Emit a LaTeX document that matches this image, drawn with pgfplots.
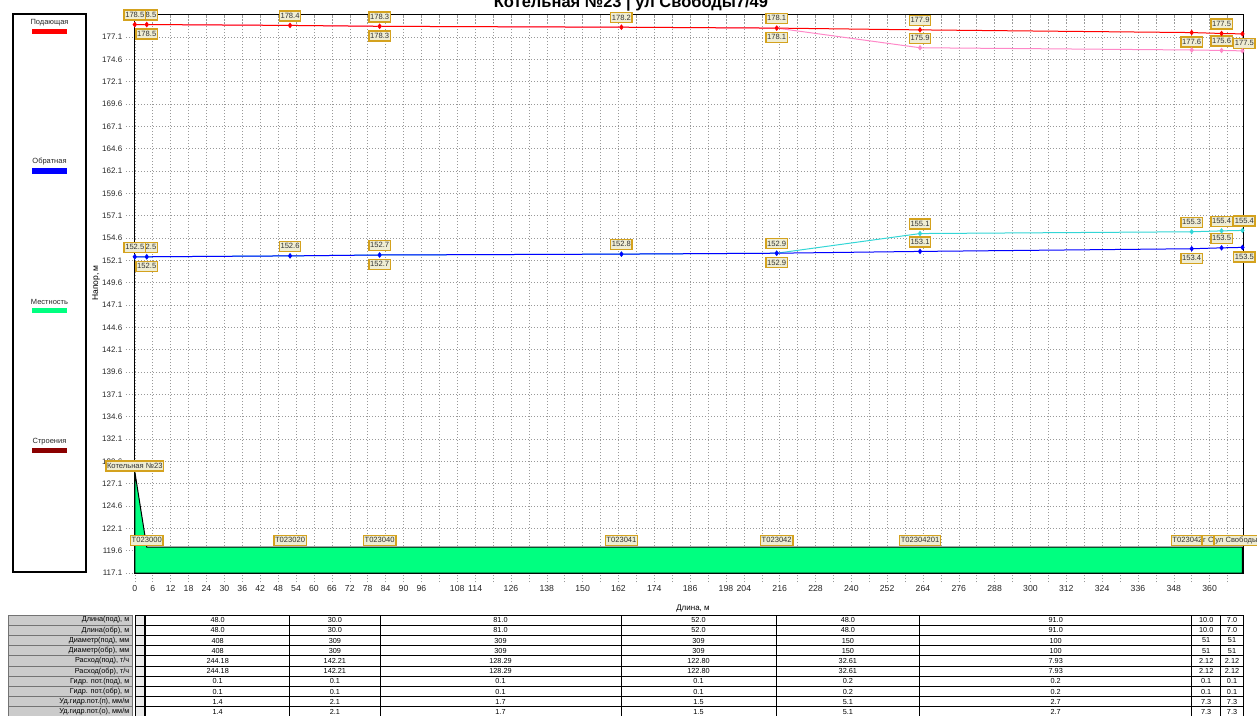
\documentclass[border=0pt]{standalone}
\usepackage{fontspec}
\setmainfont{Liberation Sans}
\usepackage{pgfplots}
\pgfplotsset{compat=1.18}
\definecolor{supply}{HTML}{FF0000}
\definecolor{supplyb}{HTML}{FF88C8}
\definecolor{ret}{HTML}{0000FF}
\definecolor{retb}{HTML}{33D6D6}
\definecolor{ground}{HTML}{00FF80}
\definecolor{build}{HTML}{8B0000}
\definecolor{lblfill}{HTML}{EFEDD3}
\definecolor{lbldraw}{HTML}{D4A21E}
\definecolor{hdrgray}{HTML}{CBCBCB}
\tikzset{vlab/.style={draw=lbldraw, fill=lblfill, line width=1.4pt, font=\fontsize{7.6}{9}\selectfont, text=black!80, inner xsep=1.2pt, inner ysep=1.7pt, text height=5.6pt, text depth=1pt},
tfont/.style={font=\fontsize{7.3}{8}\selectfont, inner sep=0pt}}
\newcommand\va[3]{\node[vlab, yshift=9.5pt] at (axis cs:#1,#2) {#3};}
\newcommand\vb[3]{\node[vlab, yshift=-9.5pt] at (axis cs:#1,#2) {#3};}
\newcommand\trow[3]{%
  \pgfmathsetmacro\yt{615+10.2*#1}%
  \pgfmathsetmacro\yb{615+10.2*(#1+1)}%
  \pgfmathsetmacro\ym{615+10.2*#1+5.1}%
  \fill[hdrgray] (8.3,\yt) rectangle (132.7,\yb);
  \draw[black!55, line width=0.7pt] (8.3,\yt) rectangle (132.7,\yb);
  \node[tfont, anchor=east] at (129.5,\ym) {#2};
  \draw[fill=black!8, line width=0.7pt] (135,\yt) rectangle (144.3,\yb);
  \foreach \v [count=\c] in {#3} {
    \pgfmathsetmacro\xl{{145.7,289.7,380,621,776,919.7,1191.7,1220.7}[\c-1]}
    \pgfmathsetmacro\xr{{289.7,380,621,776,919.7,1191.7,1220.7,1243.3}[\c-1]}
    \draw[line width=0.8pt] (\xl,\yt) rectangle (\xr,\yb);
    \node[tfont] at ({(\xl+\xr)/2},\ym) {\v};
  }
}
\begin{document}
\begin{tikzpicture}
\begin{axis}[
  at={(134.8pt,-573pt)}, anchor=south west,
  width=1108.5pt, height=558.3pt, scale only axis,
  xmin=0, xmax=371.3, ymin=117.1, ymax=179.6,
  clip=false,
  axis line style={black, line width=1pt},
  grid=major,
  major grid style={black!40, dash pattern=on 1.5pt off 1.5pt, line width=0.5pt},
  tick align=outside, xtick pos=left, ytick pos=left,
  major tick length=9pt,
  tick style={black!40, dash pattern=on 1.5pt off 1.5pt, line width=0.5pt},
  xtick={0,6,...,366},
  xticklabels={0,6,12,18,24,30,36,42,48,54,60,66,72,78,84,90,96,{},108,114,{},126,{},138,{},150,{},162,{},174,{},186,{},198,204,{},216,{},228,{},240,{},252,{},264,{},276,{},288,{},300,{},312,{},324,{},336,{},348,{},360,{}},
  ytick={117.1,119.6,122.1,124.6,127.1,129.6,132.1,134.6,137.1,139.6,142.1,144.6,147.1,149.6,152.1,154.6,157.1,159.6,162.1,164.6,167.1,169.6,172.1,174.6,177.1},
  /pgf/number format/assume math mode=true,
  xticklabel style={font=\fontsize{8.7}{10}\selectfont, text=black!85},
  yticklabel style={font=\fontsize{8}{10}\selectfont, text=black!85, /pgf/number format/.cd, fixed, fixed zerofill, precision=1},
]
% ground (Местность)
\addplot[fill=ground, draw=black, line width=1pt] coordinates {(0,128.45) (4,120.0) (371,120.0) (371,117.1) (0,117.1)} -- cycle;
% second branch supply / return
\addplot[supplyb, line width=1pt, mark=diamond*, mark size=2pt, mark options={solid}] coordinates {
(0,178.5) (4,178.5) (52,178.4) (82,178.3) (163,178.2) (215,178.1) (263,175.9) (354,175.65) (364,175.6) (371,175.55)};
\addplot[retb, line width=1pt, mark=diamond*, mark size=2pt, mark options={solid}] coordinates {
(0,152.5) (4,152.5) (52,152.6) (82,152.7) (163,152.8) (215,152.9) (263,155.1) (354,155.3) (364,155.4) (371,155.45)};
% supply (Подающая)
\addplot[supply, line width=1pt, mark=diamond*, mark size=2pt, mark options={solid}] coordinates {
(0,178.5) (4,178.5) (52,178.4) (82,178.3) (163,178.2) (215,178.1) (263,177.9) (354,177.6) (364,177.5) (371,177.45)};
% return (Обратная)
\addplot[ret, line width=1pt, mark=diamond*, mark size=2pt, mark options={solid}] coordinates {
(0,152.5) (4,152.5) (52,152.6) (82,152.7) (163,152.8) (215,152.9) (263,153.1) (354,153.4) (364,153.5) (371,153.55)};
% value labels
\va{4}{178.5}{178.5} \vb{4}{178.5}{178.5} \va{0}{178.5}{178.5}
\va{52}{178.4}{178.4}
\va{82}{178.3}{178.3} \vb{82}{178.3}{178.3}
\va{163}{178.2}{178.2}
\va{215}{178.1}{178.1} \vb{215}{178.1}{178.1}
\va{263}{177.9}{177.9} \va{263}{175.9}{175.9}
\vb{354}{177.6}{177.6}
\va{364}{177.5}{177.5} \va{364}{175.6}{175.6}
\node[vlab, yshift=-9.5pt, xshift=2pt] at (axis cs:371,177.45) {177.5};
\va{4}{152.5}{152.5} \vb{4}{152.5}{152.5} \va{0}{152.5}{152.5}
\va{52}{152.6}{152.6}
\va{82}{152.7}{152.7} \vb{82}{152.7}{152.7}
\va{163}{152.8}{152.8}
\va{215}{152.9}{152.9} \vb{215}{152.9}{152.9}
\va{263}{155.1}{155.1} \va{263}{153.1}{153.1}
\va{354}{155.3}{155.3} \vb{354}{153.4}{153.4}
\va{364}{155.4}{155.4} \va{364}{153.5}{153.5}
\node[vlab, yshift=9.5pt, xshift=2pt] at (axis cs:371,155.45) {155.4};
\node[vlab, yshift=-9.5pt, xshift=2pt] at (axis cs:371,153.55) {153.5};
% node names
\node[vlab, anchor=south] at (axis cs:0,128.45) {Котельная №23};
\node[vlab, anchor=south] at (axis cs:4,120.1) {T023000};
\node[vlab, anchor=south] at (axis cs:52,120.1) {T023020};
\node[vlab, anchor=south] at (axis cs:82,120.1) {T023040};
\node[vlab, anchor=south] at (axis cs:163,120.1) {T023041};
\node[vlab, anchor=south] at (axis cs:215,120.1) {T023042};
\node[vlab, anchor=south] at (axis cs:263,120.1) {T02304201};
\node[vlab, anchor=south] at (axis cs:354,120.1) {T02304202};
\node[vlab, anchor=south] at (axis cs:364,120.1) {г Свободы};
\node[vlab, anchor=south west, xshift=-29pt] at (axis cs:371,120.1) {ул Свободы7/49};
\end{axis}
\begin{scope}[x=1pt,y=-1pt]
% title
\node[font=\bfseries\fontsize{16.5}{19}\selectfont, anchor=base] at (631,7) {Котельная №23 | ул Свободы7/49};
% legend box
\draw[line width=1.2pt] (13,14) rectangle (86,572);
\node[font=\fontsize{7.5}{9}\selectfont, text=black!85] at (49.5,23) {Подающая};
\fill[supply] (31.7,29) rectangle (66.7,34.3);
\node[font=\fontsize{7.5}{9}\selectfont, text=black!85] at (49.5,162) {Обратная};
\fill[ret] (31.7,168.3) rectangle (66.7,173.7);
\node[font=\fontsize{7.5}{9}\selectfont, text=black!85] at (49.5,302) {Местность};
\fill[ground] (31.7,308) rectangle (66.7,313.4);
\node[font=\fontsize{7.5}{9}\selectfont, text=black!85] at (49.5,442) {Строения};
\fill[build] (31.7,448) rectangle (66.7,453.4);
% axis titles
\node[rotate=90, font=\fontsize{8.5}{10}\selectfont] at (96,283) {Напор, м};
\node[font=\fontsize{8}{10}\selectfont] at (693,609) {Длина, м};
% table
\trow{0}{Длина(под), м}{48.0,30.0,81.0,52.0,48.0,91.0,10.0,7.0}
\trow{1}{Длина(обр), м}{48.0,30.0,81.0,52.0,48.0,91.0,10.0,7.0}
\trow{2}{Диаметр(под), мм}{408,309,309,309,150,100,51,51}
\trow{3}{Диаметр(обр), мм}{408,309,309,309,150,100,51,51}
\trow{4}{Расход(под), т/ч}{244.18,142.21,128.29,122.80,32.61,7.93,2.12,2.12}
\trow{5}{Расход(обр), т/ч}{244.18,142.21,128.29,122.80,32.61,7.93,2.12,2.12}
\trow{6}{Гидр. пот.(под), м}{0.1,0.1,0.1,0.1,0.2,0.2,0.1,0.1}
\trow{7}{Гидр. пот.(обр), м}{0.1,0.1,0.1,0.1,0.2,0.2,0.1,0.1}
\trow{8}{Уд.гидр.пот.(п), мм/м}{1.4,2.1,1.7,1.5,5.1,2.7,7.3,7.3}
\trow{9}{Уд.гидр.пот.(о), мм/м}{1.4,2.1,1.7,1.5,5.1,2.7,7.3,7.3}
\end{scope}
\pgfresetboundingbox
\path[use as bounding box] (0pt,0pt) rectangle (1257pt,-715pt);
\end{tikzpicture}
\end{document}
